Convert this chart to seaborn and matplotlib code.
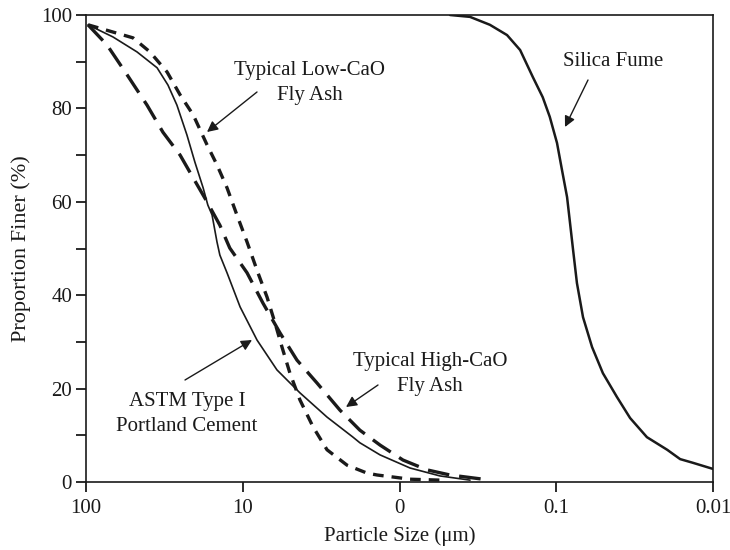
import matplotlib
matplotlib.use("Agg")
import matplotlib.pyplot as plt
import seaborn as sns
import pandas as pd

# ---- data ----
cement_x = [97.1, 67.3, 47.3, 35.2, 30.0, 26.3, 22.7, 20.2, 17.9, 16.7, 15.7, 14.6, 14.0,
            12.6, 10.4, 8.11, 6.05, 4.32, 2.90, 1.98, 1.79, 1.33, 0.857, 0.552, 0.355]
cement_y = [97.9, 95.3, 92.1, 88.7, 85.0, 80.7, 74.3, 68.5, 63.0, 59.3, 57.2, 51.4, 48.6,
            44.8, 37.5, 30.4, 24.0, 19.1, 13.9, 9.6, 8.4, 5.8, 3.0, 1.3, 0.4]

low_x = [97.1, 63.4, 50.1, 39.1, 30.4, 25.1, 20.7, 16.9, 14.6, 12.6, 10.9, 9.39, 8.0,
         7.0, 6.22, 5.62, 5.0, 4.32, 3.56, 2.90, 2.16, 1.61, 1.39, 0.857, 0.552]
low_y = [97.9, 96.1, 95.1, 92.1, 87.8, 82.9, 78.6, 72.2, 67.9, 63.0, 57.2, 51.4, 44.8,
         39.6, 34.0, 28.9, 23.3, 17.6, 11.8, 6.9, 3.6, 1.9, 1.5, 0.6, 0.4]

high_x = [97.1, 73.5, 54.7, 40.8, 32.3, 25.1, 20.7, 16.9, 14.0, 12.1, 9.39, 7.43, 5.78,
          4.51, 3.36, 2.40, 1.79, 1.33, 0.95, 0.668, 0.476, 0.293]
high_y = [97.9, 93.6, 87.2, 80.7, 74.9, 70.0, 65.1, 60.0, 55.0, 50.1, 44.8, 38.3, 31.9,
          26.1, 21.2, 15.4, 11.1, 7.9, 4.7, 2.6, 1.5, 0.6]

silica_x = [0.476, 0.355, 0.265, 0.206, 0.170, 0.141, 0.122, 0.110, 0.0989, 0.0919, 0.0853,
            0.0817, 0.0781, 0.0738, 0.0675, 0.0591, 0.0504, 0.0410, 0.0338, 0.0264, 0.0196,
            0.0162, 0.0134, 0.01]
silica_y = [100, 99.6, 97.9, 95.7, 92.5, 86.7, 82.4, 78.2, 72.6, 66.8, 61.0, 55.5, 49.7,
            42.6, 35.3, 28.9, 23.3, 18.2, 13.7, 9.6, 6.9, 4.9, 4.1, 2.8]

x_ticks = [100, 10, 1, 0.1, 0.01]
x_tick_labels = ["100", "10", "0", "0.1", "0.01"]
y_ticks = [0, 20, 40, 60, 80, 100]
y_minor_ticks = [10, 30, 50, 70, 90]

sns.set_theme(style="ticks")
plt.rcParams['font.family'] = ['Liberation Serif', 'DejaVu Serif']

fig = plt.figure(figsize=(7.3, 5.5), dpi=100)
ax = fig.add_axes([86/730, 1 - 482/550, (713-86)/730, (482-15)/550])

ink = "#1a1a1a"
FS = 15

def draw(xs, ys, **kw):
    df = pd.DataFrame({"x": xs, "y": ys})
    sns.lineplot(data=df, x="x", y="y", ax=ax, sort=False, estimator=None,
                 color=ink, **kw)

draw(cement_x, cement_y, linewidth=1.2)
draw(low_x, low_y, linewidth=2.4, dashes=(3.2, 2.4))
draw(high_x, high_y, linewidth=2.4, dashes=(6.5, 3.0))
draw(silica_x, silica_y, linewidth=1.8)
for l in ax.lines:
    l.set_solid_joinstyle("round")
    l.set_dash_capstyle("butt")

ax.set_xscale("log")
ax.set_xlim(100, 0.01)
ax.set_ylim(0, 100)
ax.set_xticks(x_ticks)
ax.set_xticklabels(x_tick_labels)
ax.xaxis.set_minor_locator(matplotlib.ticker.NullLocator())
ax.set_yticks(y_ticks)
ax.set_yticks(y_minor_ticks, minor=True)

for s in ax.spines.values():
    s.set_color(ink)
    s.set_linewidth(1.2)
ax.tick_params(axis="both", which="both", direction="out", length=7, width=1.3,
               color=ink, labelsize=FS, labelcolor=ink, pad=3)
ax.tick_params(axis="x", pad=5)

ax.set_xlabel("Particle Size (μm)", fontsize=FS, color=ink, labelpad=6)
ax.set_ylabel("Proportion Finer (%)", fontsize=FS + 1, color=ink, labelpad=7)

arrow = dict(arrowstyle="-|>", color=ink, lw=1.0, mutation_scale=16, shrinkA=0, shrinkB=0)

def px2x(px):
    return 100 * 10 ** (-(px - 86) / 156.75)

def py2y(py):
    return (482 - py) / 4.67

def ann(text, head, tail, center):
    ax.annotate("", xy=(px2x(head[0]), py2y(head[1])),
                xytext=(px2x(tail[0]), py2y(tail[1])), arrowprops=arrow)
    ax.text(px2x(center[0]), py2y(center[1]), text, ha="center", va="center",
            fontsize=FS, color=ink, linespacing=1.4)

ann("Typical Low-CaO\nFly Ash", (207, 132), (257, 92), (310, 83))
ann("Silica Fume", (565, 127), (588, 80), (613, 62))
ann("ASTM Type I\nPortland Cement", (252, 340), (185, 380), (187, 414))
ann("Typical High-CaO\nFly Ash", (346, 407), (378, 385), (430, 374))

fig.savefig("out.png", dpi=100)
